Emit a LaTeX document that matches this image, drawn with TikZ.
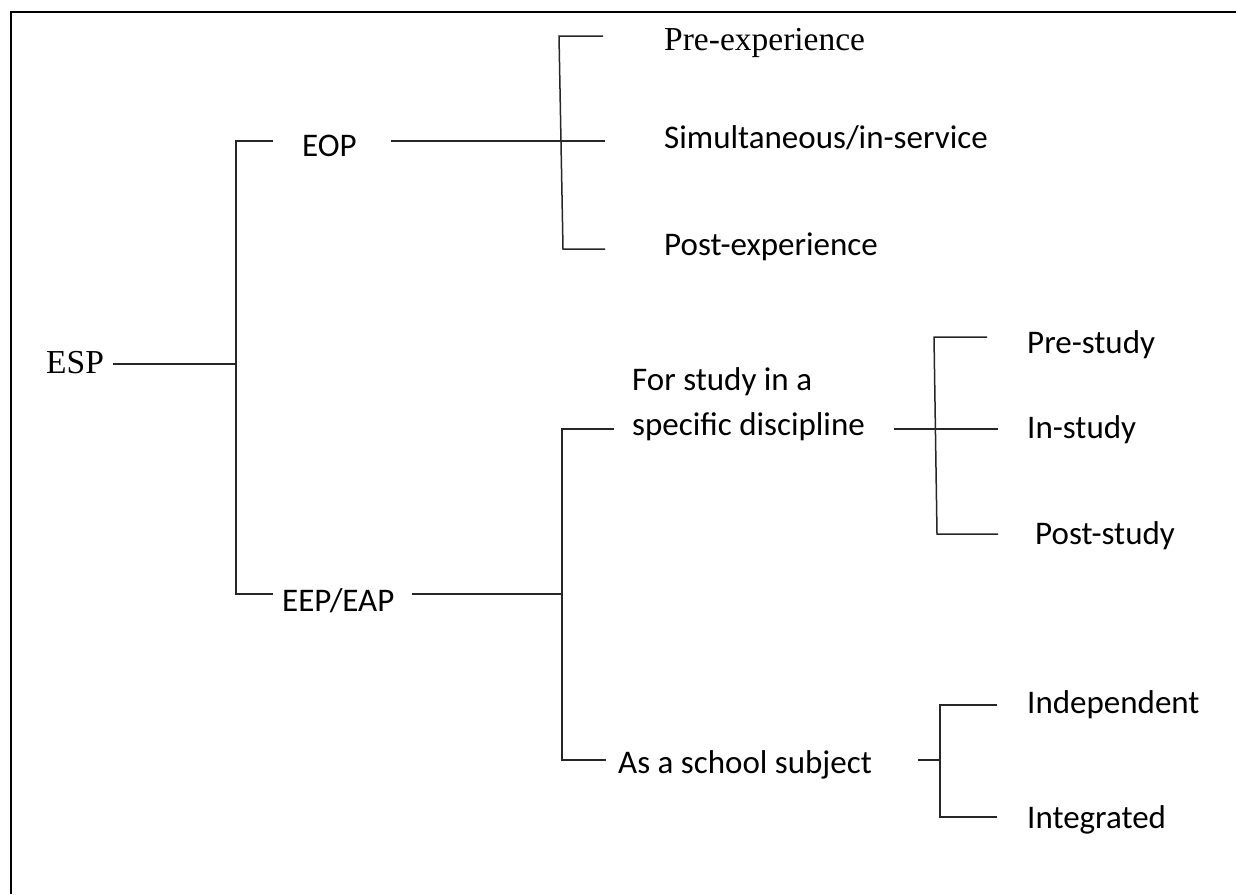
\documentclass[tikz,border=0pt]{standalone}
\usepackage{fontspec}
\setmainfont{Liberation Serif}
\newfontfamily\calib{Carlito}
\usetikzlibrary{positioning}
\tikzstyle{lab}=[anchor=base west,inner sep=0pt,font=\calib\fontsize{33}{45}\selectfont,align=left]
\tikzstyle{tms}=[anchor=base west,inner sep=0pt,font=\fontsize{33.5}{40}\selectfont]
\tikzstyle{br}=[line width=1.5pt,black!85]
\tikzstyle{frame}=[line width=2pt,black]

\begin{document}
\begin{tikzpicture}[x=1pt,y=-1pt]
\useasboundingbox (0,0) rectangle (1238,894);
\draw[frame] (11,894) -- (11,12) -- (1236,12);
% labels
    \node[tms] (esp) at (46,373) {ESP};
    \node[lab] (eop) at (302,156) {EOP};
    \node[lab] (eep) at (282,611) {EEP/EAP};
    \node[tms] (pre) at (664,50) {Pre-experience};
    \node[lab] (sim) at (664,148) {Simultaneous/in-service};
    \node[lab] (post) at (664,255) {Post-experience};
    \node[lab] (disc) at (632,435) {For study in a\\specific discipline};
    \node[lab] (prest) at (1027,353) {Pre-study};
    \node[lab] (inst) at (1027,438) {In-study};
    \node[lab] (postst) at (1035,544) {Post-study};
    \node[lab] (school) at (618,773) {As a school subject};
    \node[lab] (indep) at (1027,713) {Independent};
    \node[lab] (integ) at (1027,828) {Integrated};
% first fork
    \coordinate (espr) at (113,364);
    \coordinate (ta) at (236,141);
    \coordinate (tm) at (236,364);
    \coordinate (tb) at (236,594);
    \coordinate (eopl) at (273,141);
    \coordinate (eepl) at (273,594);
    \draw[br] (espr) -- (tm);
    \draw[br] (eopl) -- (ta) -- (tb) -- (eepl);
% EOP fork
    \coordinate (eopr) at (391,141);
    \coordinate (ua) at (559,36);
    \coordinate (ub) at (563,249);
    \coordinate (ual) at (603,36);
    \coordinate (uml) at (605,141);
    \coordinate (ubl) at (605,249);
    \draw[br] (eopr) -- (uml);
    \draw[br] (ual) -- (ua) -- (ub) -- (ubl);
% EEP/EAP fork
    \coordinate (eepr) at (412,594);
    \coordinate (va) at (562,429);
    \coordinate (vm) at (562,594);
    \coordinate (vb) at (562,760);
    \coordinate (val) at (614,429);
    \coordinate (vbl) at (606,760);
    \draw[br] (eepr) -- (vm);
    \draw[br] (val) -- (va) -- (vb) -- (vbl);
% study fork
    \coordinate (discr) at (894,429);
    \coordinate (wa) at (934,337);
    \coordinate (wb) at (937,534);
    \coordinate (wal) at (987,337);
    \coordinate (wml) at (998,429);
    \coordinate (wbl) at (998,534);
    \draw[br] (discr) -- (wml);
    \draw[br] (wal) -- (wa) -- (wb) -- (wbl);
% school fork
    \coordinate (schr) at (918,760);
    \coordinate (xa) at (940,705);
    \coordinate (xm) at (940,760);
    \coordinate (xb) at (940,817);
    \coordinate (xal) at (997,705);
    \coordinate (xbl) at (997,817);
    \draw[br] (schr) -- (xm);
    \draw[br] (xal) -- (xa) -- (xb) -- (xbl);
\end{tikzpicture}
\end{document}
